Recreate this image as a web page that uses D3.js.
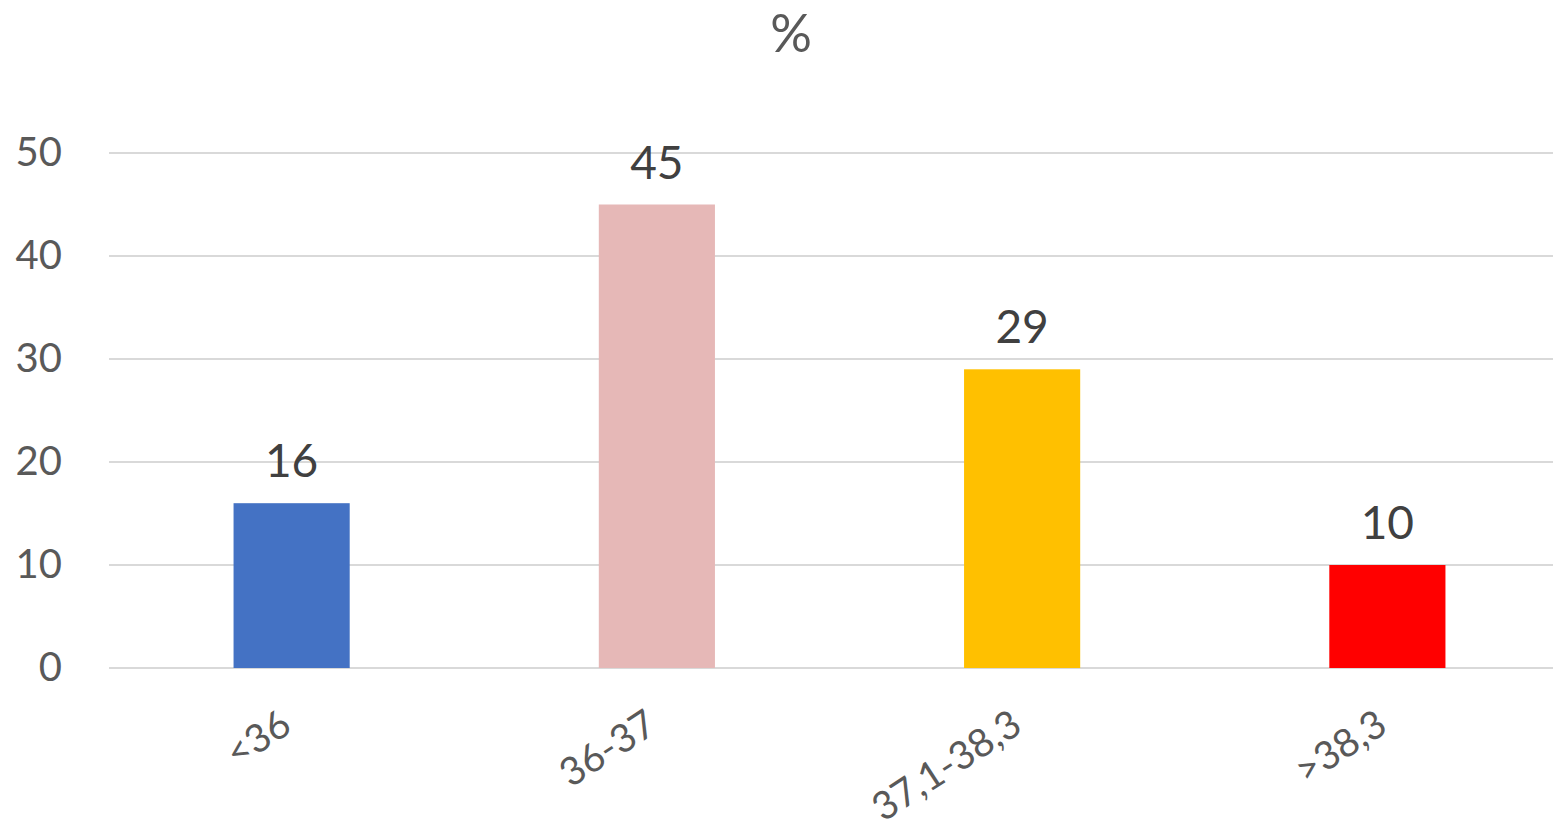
<!DOCTYPE html>
<html>
<head>
<meta charset="utf-8">
<script src="https://cdn.jsdelivr.net/npm/d3@7"></script>
<style>
body{margin:0;background:#fff;}
svg text{font-family:Lato,"Open Sans",sans-serif;}
</style>
</head>
<body>
<svg id="chart" width="1554" height="832"></svg>
<script>
const categories = ["<36", "36-37", "37,1-38,3", ">38,3"];
const values = [16, 45, 29, 10];
const colors = ["#4472C4", "#E6B8B7", "#FFC000", "#FF0000"];
const yTicks = [0, 10, 20, 30, 40, 50];
const title = "%";

const svg = d3.select("#chart");
const W = 1554, H = 832;
const plotLeft = 109, plotRight = 1570, gridRight = 1553, plotTop = 153, plotBottom = 668;

const x = d3.scaleBand().domain(categories)
  .range([plotLeft, plotRight])
  .paddingInner(0.682).paddingOuter(0.341);
const y = d3.scaleLinear().domain([0, 50]).range([plotBottom, plotTop]);

// gridlines
svg.append("g").selectAll("line").data(yTicks).join("line")
  .attr("x1", plotLeft).attr("x2", gridRight)
  .attr("y1", d => y(d)).attr("y2", d => y(d))
  .attr("stroke", "#D9D9D9").attr("stroke-width", 2);

// y axis labels
const yAxis = d3.axisLeft(y).tickValues(yTicks).tickSize(0).tickPadding(0);
const gy = svg.append("g").attr("transform", `translate(62,0)`).call(yAxis);
gy.select(".domain").remove();
gy.selectAll("text").attr("font-size", 40).attr("fill", "#595959")
  .attr("font-family", "Lato,'Open Sans',sans-serif");

// bars
svg.append("g").selectAll("rect").data(values).join("rect")
  .attr("x", (d,i) => x(categories[i]))
  .attr("width", x.bandwidth())
  .attr("y", d => y(d))
  .attr("height", d => y(0) - y(d))
  .attr("fill", (d,i) => colors[i]);

// value labels
svg.append("g").selectAll("text").data(values).join("text")
  .attr("x", (d,i) => x(categories[i]) + x.bandwidth()/2)
  .attr("y", d => y(d) - 26)
  .attr("text-anchor", "middle")
  .attr("font-size", 46).attr("fill", "#404040")
  .text(d => d);

// x labels
const xAxis = d3.axisBottom(x).tickSize(0).tickPadding(0);
const gx = svg.append("g").attr("transform", `translate(0,${y(0)})`).call(xAxis);
gx.select(".domain").remove();
gx.selectAll("text")
  .attr("font-size", 39).attr("fill", "#595959")
  .attr("font-family", "Lato,'Open Sans',sans-serif")
  .attr("text-anchor", "end")
  .attr("dy", 0)
  .attr("y", 0)
  .attr("transform", "translate(2,63) rotate(-33)");

// title
svg.append("text").attr("x", 791).attr("y", 52)
  .attr("text-anchor", "middle").attr("font-size", 52).attr("fill", "#595959")
  .text(title);
</script>
</body>
</html>
